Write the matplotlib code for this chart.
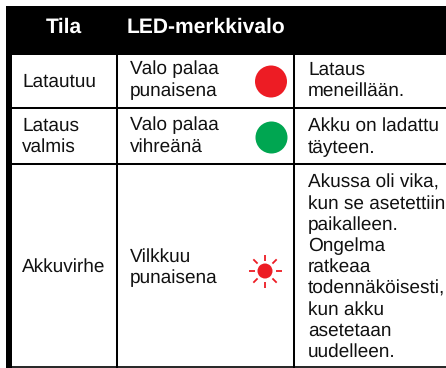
import numpy as np
import matplotlib
matplotlib.use('Agg')
import matplotlib.pyplot as plt
from matplotlib.patches import Circle, Rectangle

plt.rcParams['font.family'] = ['Liberation Sans', 'DejaVu Sans']
plt.rcParams['text.hinting'] = 'no_hinting'
plt.rcParams['text.hinting_factor'] = 1

headers = ['Tila', 'LED-merkkivalo']
status = [['Latautuu'], ['Lataus', 'valmis'], ['Akkuvirhe']]
led = [['Valo palaa', 'punaisena'], ['Valo palaa', 'vihreänä'], ['Vilkkuu', 'punaisena']]
info = [['Lataus', 'meneillään.'],
        ['Akku on ladattu', 'täyteen.'],
        ['Akussa oli vika,', 'kun se asetettiin', 'paikalleen.', 'Ongelma', 'ratkeaa',
         'todennäköisesti,', 'kun akku', 'asetetaan', 'uudelleen.']]
led_colors = ['#ED1C24', '#00A651', '#ED1C24']

# pixel layout
W, H = 446, 368
row_lines = [107.5, 164]
col_lines = [117, 294]
status_base = [86.5, 130.5, 271.5]
led_base = [74.5, 130.5, 261.5]
info_base = [74.5, 130.5, 187.5]
led_y = [81.5, 137.5, 271]
pitch = 21.2

fig = plt.figure(figsize=(W / 100, H / 100), dpi=100)
ax = fig.add_axes([0, 0, 1, 1])
ax.set_xlim(0, W)
ax.set_ylim(H, 0)
ax.axis('off')

# frame and header
ax.add_patch(Rectangle((6, 6), W - 6, 49, color='black', lw=0))
ax.add_patch(Rectangle((6, 55), 6, H - 55, color='black', lw=0))
ax.plot([12, W], [367, 367], color='black', lw=1.2, solid_capstyle='butt')
for y in row_lines:
    ax.plot([12, W], [y, y], color='black', lw=1.45, solid_capstyle='butt')
for x in col_lines:
    ax.plot([x, x], [55, H], color='black', lw=1.45, solid_capstyle='butt')

ax.text(46, 33, headers[0], color='white', fontsize=15.2, fontweight='bold', va='baseline')
ax.text(126.5, 33, headers[1], color='white', fontsize=15.2, fontweight='bold', va='baseline')


def put(lines, x, y0):
    for i, s in enumerate(lines):
        ax.text(x, y0 + i * pitch, s, fontsize=13.55, color='#111111', va='baseline')


for i in range(3):
    put(status[i], 22, status_base[i])
    put(led[i], 130, led_base[i])
    put(info[i], 308, info_base[i])

# LEDs
ax.add_patch(Circle((271, led_y[0]), 16, color=led_colors[0], lw=0))
ax.add_patch(Circle((271.5, led_y[1]), 16, color=led_colors[1], lw=0))
ax.add_patch(Circle((265, led_y[2]), 7.5, color=led_colors[2], lw=0))
for a in np.arange(0, 360, 45):
    c, s = np.cos(np.radians(a)), np.sin(np.radians(a))
    ax.plot([265 + 10.5 * c, 265 + 16.5 * c], [led_y[2] + 10.5 * s, led_y[2] + 16.5 * s],
            color=led_colors[2], lw=1.3, solid_capstyle='butt')

fig.savefig('out.png', dpi=100)
